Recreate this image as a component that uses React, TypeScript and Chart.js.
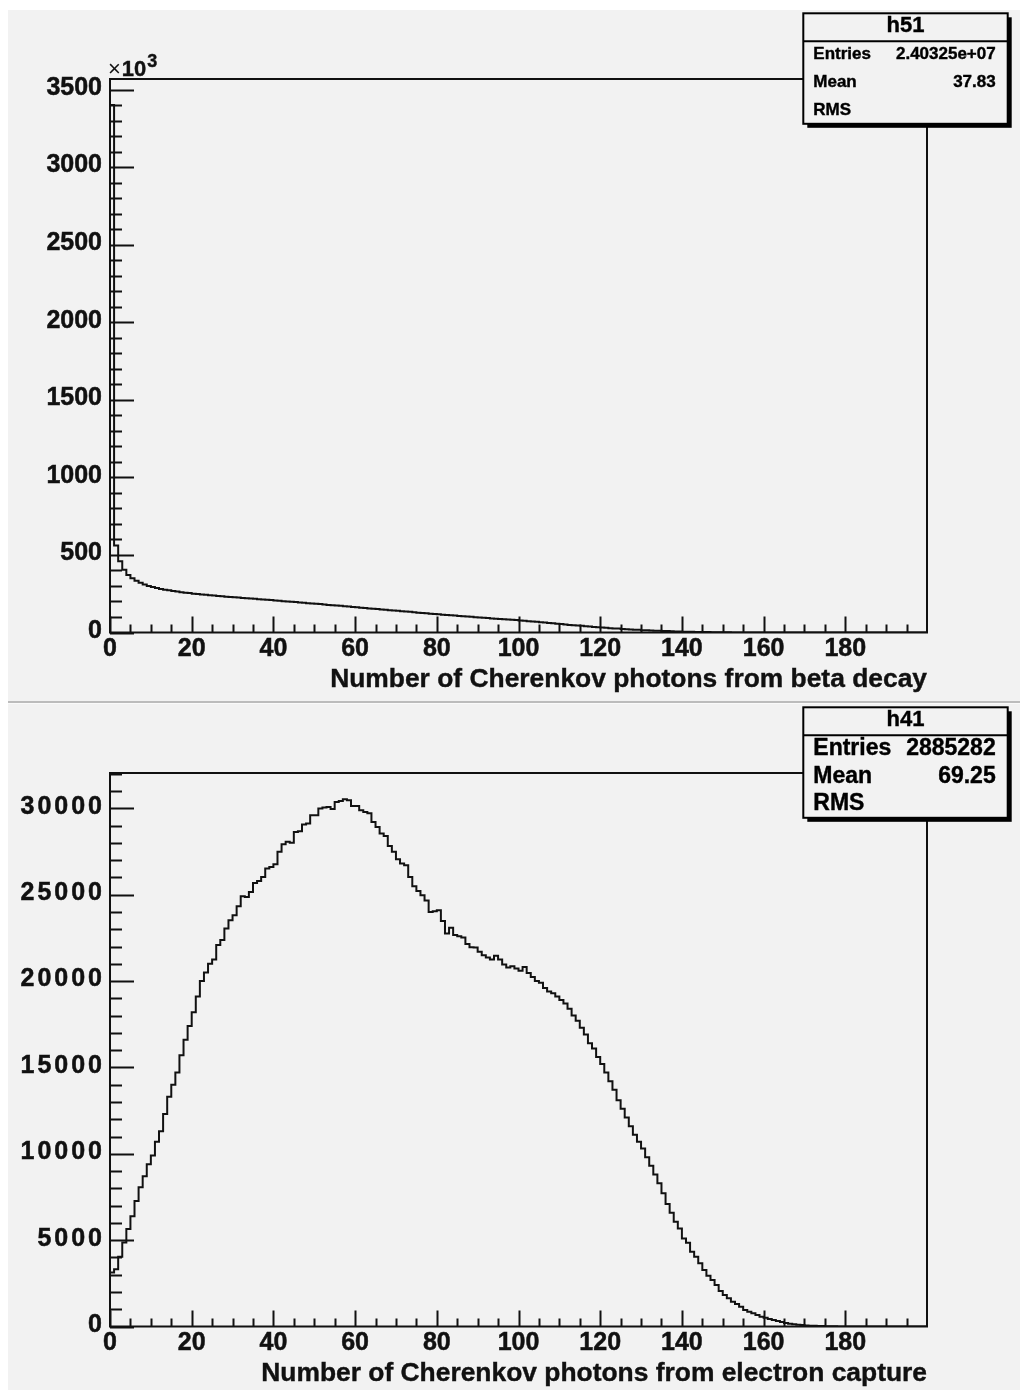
import React, { useEffect, useRef } from "react";
import { Chart, registerables } from "chart.js";

Chart.register(...registerables);

// Histogram binning: 200 bins of width 1 starting at 0
const X_MIN = 0;
const X_MAX = 200;
const BIN_WIDTH = 1;
const X_TICKS = [0, 20, 40, 60, 80, 100, 120, 140, 160, 180];
const X_MINOR_STEP = 5;

// h51: photons from beta decay (counts in thousands, ×10³)
const BETA_COUNTS_K = [
  3400, 560, 460, 405, 370, 350, 333, 320, 309, 300,
  293, 287, 281, 276, 272, 268, 264, 260, 257, 254,
  250, 248, 245, 243, 240, 238, 236, 233, 231, 229,
  227, 225, 223, 221, 219, 217, 215, 213, 211, 209,
  206, 204, 202, 200, 198, 196, 193, 191, 189, 187,
  185, 183, 181, 178, 176, 174, 172, 170, 167, 165,
  162, 160, 158, 155, 153, 151, 149, 146, 144, 142,
  140, 137, 135, 133, 130, 128, 126, 124, 121, 119,
  117, 115, 113, 111, 109, 107, 105, 103, 101, 99,
  97, 95, 93, 91, 89, 87, 86, 84, 82, 80,
  78, 76, 73, 71, 69, 66, 64, 61, 59, 57,
  54, 52, 49, 47, 45, 43, 40, 38, 36, 34,
  32, 30, 28, 26, 25, 23, 21, 20, 18, 17,
  15, 14, 13, 12, 11, 10, 9, 8, 7, 6,
  5.5, 5, 4.5, 4, 3.5, 3, 2.6, 2.2, 1.9, 1.6,
  1.3, 1.0, 0.8, 0.6, 0.4, 0.3, 0.2, 0.1, 0, 0,
  0, 0, 0, 0, 0, 0, 0, 0, 0, 0,
  0, 0, 0, 0, 0, 0, 0, 0, 0, 0,
  0, 0, 0, 0, 0, 0, 0, 0, 0, 0,
  0, 0, 0, 0, 0, 0, 0, 0, 0, 0,
];
const BETA_Y_TICKS = [0, 500, 1000, 1500, 2000, 2500, 3000, 3500];
const BETA_Y_MAX = 3567.7;
const BETA_STATS: [string, string][] = [
  ["Entries", "2.40325e+07"],
  ["Mean", "37.83"],
  ["RMS", ""],
];

// h41: photons from electron capture (counts)
const EC_COUNTS = [
  3130, 3310, 4040, 4870, 5640, 6380, 7260, 8060, 8700, 9400,
  9900, 10700, 11300, 12300, 13300, 14000, 14700, 15700, 16600, 17400,
  18200, 19100, 20000, 20500, 21000, 21250, 22080, 22370, 23040, 23520,
  23810, 24330, 24910, 24870, 25160, 25680, 25790, 26030, 26510, 26610,
  26760, 27480, 27920, 28060, 28000, 28630, 28670, 29060, 29120, 29600,
  29600, 29990, 30050, 30080, 29960, 30370, 30430, 30520, 30470, 30140,
  30130, 29890, 29790, 29710, 29210, 28920, 28540, 28400, 27820, 27480,
  27050, 26800, 26710, 26030, 25490, 25210, 24970, 24660, 24000, 24040,
  24100, 23470, 22750, 23080, 22660, 22600, 22520, 22140, 21950, 21940,
  21690, 21500, 21370, 21250, 21460, 21250, 20960, 20790, 20860, 20730,
  20590, 20820, 20470, 20240, 20000, 19900, 19600, 19400, 19300, 19100,
  18900, 18700, 18400, 18000, 17700, 17300, 16900, 16400, 16100, 15600,
  15200, 14700, 14200, 13700, 13100, 12600, 12100, 11600, 11100, 10700,
  10300, 9800, 9300, 8800, 8290, 7710, 7090, 6590, 6070, 5680,
  5100, 4850, 4330, 4040, 3660, 3270, 2940, 2690, 2400, 2050,
  1820, 1630, 1440, 1300, 1150, 950, 860, 760, 670, 570,
  510, 430, 380, 320, 260, 200, 160, 130, 100, 80,
  65, 50, 40, 30, 25, 20, 15, 10, 5, 0,
  0, 0, 0, 0, 0, 0, 0, 0, 0, 0,
  0, 0, 0, 0, 0, 0, 0, 0, 0, 0,
];
const EC_Y_TICKS = [0, 5000, 10000, 15000, 20000, 25000, 30000];
const EC_Y_MAX = 32045;
const EC_STATS: [string, string][] = [
  ["Entries", "2885282"],
  ["Mean", "69.25"],
  ["RMS", ""],
];

const INK = "#111111";
const PAD_BG = "#f2f2f2";
const FONT = '"Liberation Sans", Arial, Helvetica, sans-serif';

type PanelProps = {
  height: number;
  counts: number[];
  yTicks: number[];
  yMinorStep: number;
  yMax: number;
  yLabelSpacing: number;
  padTop: number;
  padBottom: number;
  xTitle: string;
  histName: string;
  stats: [string, string][];
  statsFont: number;
  exponent?: string;
};

const WIDTH = 1012;

// bold text with a hair of stroke so it reads as heavy as the plot frame
function heavyText(ctx: CanvasRenderingContext2D, s: string, x: number, y: number, w = 0.5) {
  ctx.fillText(s, x, y);
  if (w > 0) {
    ctx.lineWidth = w;
    ctx.strokeText(s, x, y);
  }
}

function HistPanel(p: PanelProps) {
  const ref = useRef<HTMLCanvasElement | null>(null);

  useEffect(() => {
    const canvas = ref.current;
    if (!canvas) return;

    // bin low edges plus the closing edge of the last bin
    const points = p.counts.map((v, i) => ({ x: X_MIN + i * BIN_WIDTH, y: v }));
    points.push({ x: X_MAX, y: p.counts[p.counts.length - 1] });

    const rootStyle = {
      id: "rootStyle",
      afterDraw(chart: any) {
        const { ctx, chartArea: a } = chart;
        const xs = chart.scales.x;
        const ys = chart.scales.y;
        ctx.save();
        ctx.strokeStyle = INK;
        ctx.fillStyle = INK;
        ctx.lineWidth = 2;
        ctx.lineCap = "butt";

        // frame
        ctx.strokeRect(a.left, a.top, a.right - a.left, a.bottom - a.top);

        // x ticks
        ctx.beginPath();
        for (let v = X_MIN; v < X_MAX; v += X_MINOR_STEP) {
          const px = Math.round(xs.getPixelForValue(v)) + 0.5;
          const len = X_TICKS.includes(v) ? 16 : 8;
          ctx.moveTo(px, a.bottom);
          ctx.lineTo(px, a.bottom - len);
        }
        ctx.stroke();

        // y ticks
        ctx.beginPath();
        for (let v = 0; v <= p.yMax; v += p.yMinorStep) {
          const py = Math.round(ys.getPixelForValue(v)) + 0.5;
          if (py < a.top + 1) continue;
          const len = p.yTicks.includes(v) ? 24 : 12;
          ctx.moveTo(a.left, py);
          ctx.lineTo(a.left + len, py);
        }
        ctx.stroke();

        // tick labels
        ctx.font = `bold 25px ${FONT}`;
        ctx.textBaseline = "middle";
        ctx.textAlign = "right";
        (ctx as any).letterSpacing = `${p.yLabelSpacing}px`;
        for (const v of p.yTicks) {
          heavyText(ctx, String(v), a.left - 8 + p.yLabelSpacing, ys.getPixelForValue(v) - 1.5);
        }
        (ctx as any).letterSpacing = "0px";
        ctx.textAlign = "center";
        for (const v of X_TICKS) {
          heavyText(ctx, String(v), xs.getPixelForValue(v), a.bottom + 17);
        }

        // exponent marker above the y axis
        if (p.exponent) {
          ctx.textAlign = "left";
          ctx.textBaseline = "alphabetic";
          ctx.font = `22px ${FONT}`;
          ctx.fillText("\u00d7", a.left - 2, a.top - 3);
          const wx = ctx.measureText("\u00d7").width;
          ctx.font = `bold 22px ${FONT}`;
          heavyText(ctx, "10", a.left - 1 + wx, a.top - 3, 0.4);
          const w10 = ctx.measureText("10").width;
          ctx.font = `bold 18px ${FONT}`;
          heavyText(ctx, p.exponent, a.left + wx + w10, a.top - 12, 0.4);
        }

        // axis title
        ctx.font = `bold 26.4px ${FONT}`;
        ctx.textAlign = "right";
        ctx.textBaseline = "alphabetic";
        heavyText(ctx, p.xTitle, a.right, 676.5, 0.4);

        // statistics box
        const bx = 795.3;
        const by = 3.3;
        const bw = 204.4;
        const bh = 110.5;
        ctx.fillStyle = "#000";
        ctx.fillRect(bx + 4, by + 4, bw, bh);
        ctx.fillStyle = PAD_BG;
        ctx.fillRect(bx, by, bw, bh);
        ctx.strokeStyle = "#000";
        ctx.lineWidth = 2;
        ctx.strokeRect(bx, by, bw, bh);
        ctx.beginPath();
        ctx.moveTo(bx, by + 28);
        ctx.lineTo(bx + bw, by + 28);
        ctx.stroke();
        ctx.fillStyle = "#000";
        ctx.font = `bold 22px ${FONT}`;
        ctx.textAlign = "center";
        ctx.textBaseline = "middle";
        heavyText(ctx, p.histName, bx + bw / 2, by + 13, 0.4);
        ctx.font = `bold ${p.statsFont}px ${FONT}`;
        const rowY = [44.3, 72.2, 100];
        p.stats.forEach(([label, value], i) => {
          ctx.textAlign = "left";
          heavyText(ctx, label, bx + 10, by + rowY[i] - 3.3, 0.4);
          ctx.textAlign = "right";
          if (value) heavyText(ctx, value, bx + bw - 12, by + rowY[i] - 3.3, 0.4);
        });

        ctx.restore();
      },
    };

    const chart = new Chart(canvas, {
      type: "line",
      data: {
        datasets: [
          {
            data: points,
            stepped: "before",
            borderColor: INK,
            borderWidth: 2,
            pointRadius: 0,
            fill: false,
            tension: 0,
          },
        ],
      },
      options: {
        animation: false,
        responsive: false,
        devicePixelRatio: 1,
        events: [],
        layout: {
          padding: { left: 102, right: 93, top: p.padTop, bottom: p.padBottom },
        },
        plugins: { legend: { display: false }, tooltip: { enabled: false } },
        scales: {
          x: { type: "linear", min: X_MIN, max: X_MAX, display: false },
          y: { type: "linear", min: 0, max: p.yMax, display: false },
        },
      },
      plugins: [rootStyle],
    } as any);

    return () => chart.destroy();
  }, []);

  return (
    <div style={{ width: WIDTH, height: p.height, background: PAD_BG }}>
      <canvas ref={ref} width={WIDTH} height={p.height} style={{ display: "block", width: WIDTH, height: p.height }} />
    </div>
  );
}

export default function App() {
  return (
    <div style={{ position: "fixed", left: 8, top: 10, width: WIDTH, height: 1380, background: "#fff" }}>
      <HistPanel
        height={691}
        counts={BETA_COUNTS_K}
        yTicks={BETA_Y_TICKS}
        yMinorStep={100}
        yMax={BETA_Y_MAX}
        yLabelSpacing={0}
        padTop={69}
        padBottom={68.5}
        xTitle="Number of Cherenkov photons from beta decay"
        histName="h51"
        stats={BETA_STATS}
        statsFont={17}
        exponent="3"
      />
      <div style={{ height: 2, background: "#bcbcbc" }} />
      <div style={{ height: 1, background: "#fafafa" }} />
      <HistPanel
        height={686}
        counts={EC_COUNTS}
        yTicks={EC_Y_TICKS}
        yMinorStep={1000}
        yMax={EC_Y_MAX}
        yLabelSpacing={3}
        padTop={69}
        padBottom={63.5}
        xTitle="Number of Cherenkov photons from electron capture"
        histName="h41"
        stats={EC_STATS}
        statsFont={23}
      />
    </div>
  );
}
